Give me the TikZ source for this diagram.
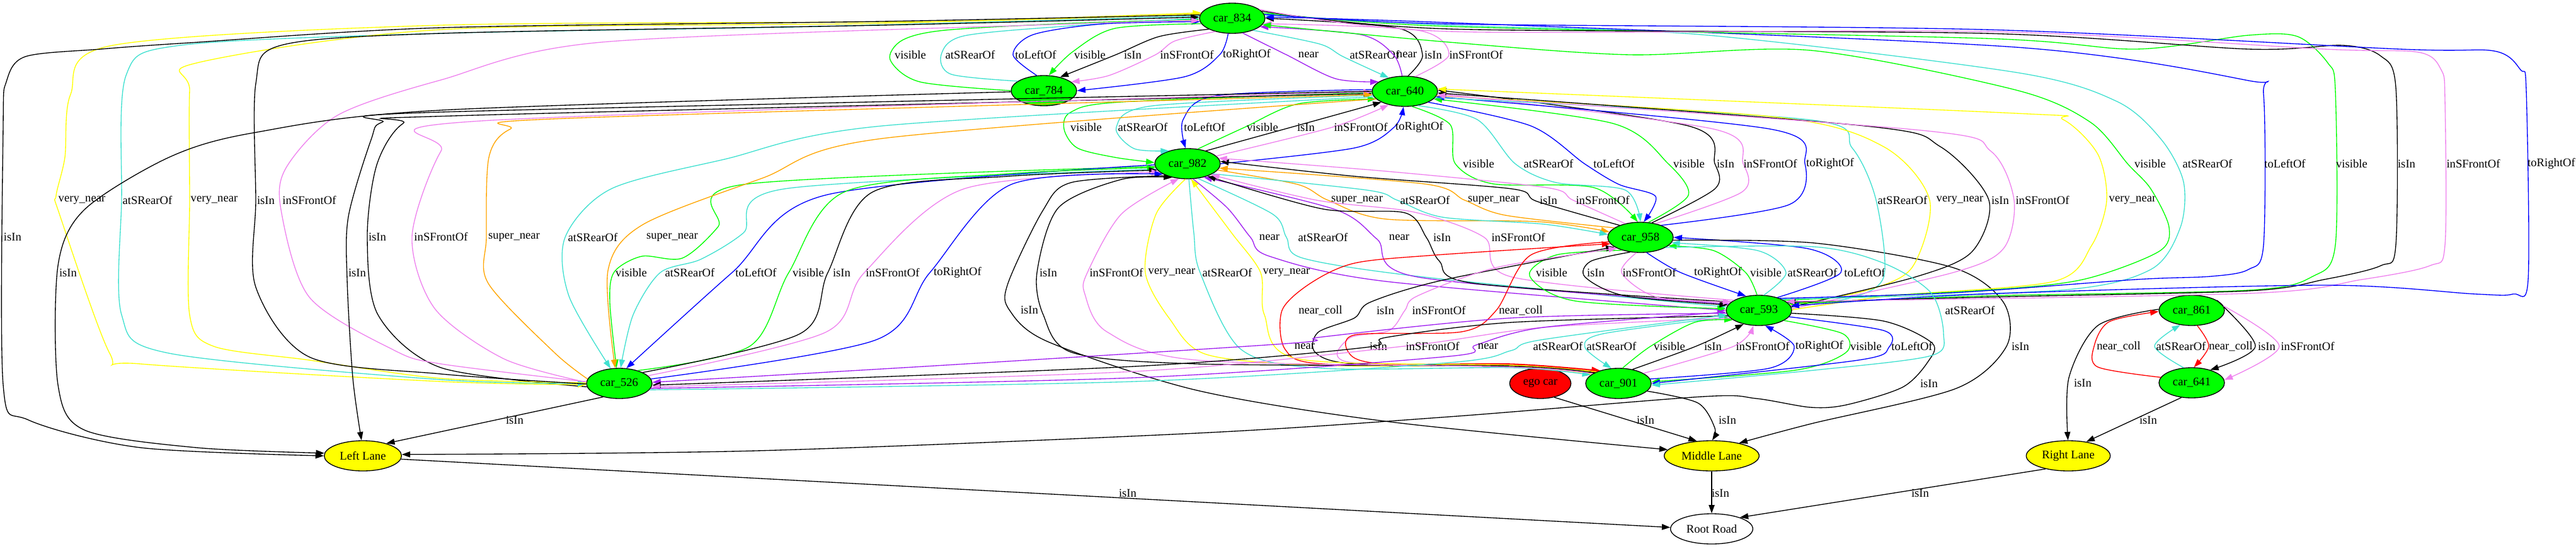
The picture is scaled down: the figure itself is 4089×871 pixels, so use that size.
\documentclass[tikz,border=0pt]{standalone}
\usepackage{fontspec}
\setmainfont{Liberation Serif}
\usepackage{xcolor}
\usepackage{tikz}
\usetikzlibrary{shapes.geometric,arrows.meta}
\definecolor{scenegreen}{RGB}{0,255,0}
\definecolor{scenered}{RGB}{255,0,0}
\definecolor{sceneyellow}{RGB}{255,255,0}
\definecolor{relturquoise}{RGB}{64,224,208}
\definecolor{relblue}{RGB}{0,0,255}
\definecolor{relviolet}{RGB}{238,130,238}
\definecolor{relpurple}{RGB}{160,32,240}
\definecolor{relorange}{RGB}{255,165,0}

\begin{document}
\begin{tikzpicture}[x=0.75pt, y=-0.75pt,
    font=\fontsize{14}{16}\selectfont,
    car/.style={ellipse, draw, line width=1pt, fill=scenegreen, minimum width=78pt, minimum height=36pt, inner sep=0pt},
    lane/.style={car, fill=sceneyellow},
    rel/.style={draw=#1, line width=1pt, -{Triangle[length=10pt, width=7pt]}},
    rel/.default=black]
\useasboundingbox (0,0) rectangle (4089,871);

    % the cars
    \node[car] (car834) at (1956,29) {car\_834};
    \node[car] (car784) at (1657,144) {car\_784};
    \node[car] (car640) at (2230,145) {car\_640};
    \node[car] (car982) at (1885,260) {car\_982};
    \node[car] (car958) at (2604,377) {car\_958};
    \node[car] (car593) at (2792,493) {car\_593};
    \node[car] (car861) at (3479,493) {car\_861};
    \node[car] (car526) at (983,609) {car\_526};
    \node[car, fill=scenered, minimum width=73pt] (egocar) at (2445,609) {ego car};
    \node[car] (car901) at (2569,609) {car\_901};
    \node[car] (car641) at (3479,608) {car\_641};

    % lanes and road
    \node[lane, minimum width=92pt] (leftlane) at (576,724) {Left Lane};
    \node[lane, minimum width=113pt] (middlelane) at (2717,724) {Middle Lane};
    \node[lane, minimum width=100pt] (rightlane) at (3283,724) {Right Lane};
    \node[car, fill=white, minimum width=98pt] (rootroad) at (2717,840) {Root Road};

    % car_784 and car_834
    \draw[rel=scenegreen] plot[smooth] coordinates {(car784.180) (1460,130) (1413,95) (1432,64) (1500,48) (1700,37) (car834.182)} node[at={(1445,87)}] {visible};
    \draw[rel=relturquoise] plot[smooth] coordinates {(car784.160) (1510,118) (1494,87) (1530,57) (1700,41) (car834.180)} node[at={(1540,87)}] {atSRearOf};
    \draw[rel=relblue] plot[smooth] coordinates {(car784.115) (1608,87) (1640,55) (1750,38) (car834.186)} node[at={(1644,87)}] {toLeftOf};
    \draw[rel=scenegreen] plot[smooth] coordinates {(car834.190) (1770,45) (1703,82) (car784.72)} node[at={(1730,87)}] {visible};
    \draw[rel] plot[smooth] coordinates {(car834.205) (1840,58) (1771,87) (car784.40)} node[at={(1798,87)}] {isIn};
    \draw[rel=relviolet] plot[smooth] coordinates {(car834.218) (1865,65) (1834,87) (1760,120) (car784.18)} node[at={(1884,87)}] {inSFrontOf};
    \draw[rel=relblue] plot[smooth] coordinates {(car834.255) (1936,87) (1880,122) (car784.0)} node[at={(1979,87)}] {toRightOf};

    % car_834 and car_640
    \draw[rel=relpurple] plot[smooth] coordinates {(car834.305) (2042,87) (2120,125) (car640.160)} node[at={(2077,87)}] {near};
    \draw[rel=relturquoise] plot[smooth] coordinates {(car834.330) (2095,70) (2132,90) (car640.140)} node[at={(2182,87)}] {atSRearOf};
    \draw[rel=relpurple] plot[smooth] coordinates {(car640.100) (2212,87) (2160,55) (car834.343)} node[at={(2233,87)}] {near};
    \draw[rel] plot[smooth] coordinates {(car640.78) (2258,87) (2220,45) (car834.0)} node[at={(2275,87)}] {isIn};
    \draw[rel=relviolet] plot[smooth] coordinates {(car640.55) (2300,87) (2250,48) (car834.350)} node[at={(2343,87)}] {inSFrontOf};

    % car_640 and car_982
    \draw[rel=scenegreen] plot[smooth] coordinates {(car640.182) (1780,162) (1700,178) (1689,205) (1710,235) (1770,250) (car982.178)} node[at={(1724,202)}] {visible};
    \draw[rel=relturquoise] plot[smooth] coordinates {(car640.187) (1830,168) (1772,202) (1800,236) (car982.145)} node[at={(1814,202)}] {atSRearOf};
    \draw[rel=relblue] plot[smooth] coordinates {(car640.177) (1930,152) (1878,190) (car982.97)} node[at={(1912,202)}] {toLeftOf};
    \draw[rel=scenegreen] plot[smooth] coordinates {(car982.55) (1976,202) (2060,165) (car640.195)} node[at={(2004,202)}] {visible};
    \draw[rel] plot[smooth] coordinates {(car982.35) (2050,202) (car640.205)} node[at={(2073,202)}] {isIn};
    \draw[rel=relviolet] plot[smooth] coordinates {(car982.15) (2115,202) (car640.220)} node[at={(2160,202)}] {inSFrontOf};
    \draw[rel=relblue] plot[smooth] coordinates {(car982.0) (2150,235) (2213,202) (car640.265)} node[at={(2253,202)}] {toRightOf};

    % car_640 and car_958
    \draw[rel=scenegreen] plot[smooth] coordinates {(car640.295) (2302,198) (2310,260) (2370,292) (2530,298) (car958.100)} node[at={(2347,260)}] {visible};
    \draw[rel=relturquoise] plot[smooth] coordinates {(car640.312) (2345,190) (2405,260) (2470,290) (2580,302) (car958.90)} node[at={(2458,260)}] {atSRearOf};
    \draw[rel=relblue] plot[smooth] coordinates {(car640.335) (2430,200) (2515,260) (2570,293) (2628,312) (car958.78)} node[at={(2562,260)}] {toLeftOf};
    \draw[rel=scenegreen] plot[smooth] coordinates {(car958.62) (2680,310) (2648,260) (2560,196) (car640.345)} node[at={(2681,260)}] {visible};
    \draw[rel] plot[smooth] coordinates {(car958.52) (2722,300) (2722,260) (2680,200) (car640.2)} node[at={(2739,260)}] {isIn};
    \draw[rel=relviolet] plot[smooth] coordinates {(car958.42) (2765,305) (2767,260) (2720,205) (car640.356)} node[at={(2810,260)}] {inSFrontOf};
    \draw[rel=relblue] plot[smooth] coordinates {(car958.30) (2840,325) (2865,260) (2810,205) (car640.350)} node[at={(2905,260)}] {toRightOf};

    % car_982 and car_958
    \draw[rel=relorange] plot[smooth] coordinates {(car982.348) (2060,293) (2108,318) (2200,348) (2440,352) (car958.170)} node[at={(2154,318)}] {super\_near};
    \draw[rel=relturquoise] plot[smooth] coordinates {(car982.338) (2170,302) (2218,318) (2290,345) (2450,356) (car958.175)} node[at={(2262,318)}] {atSRearOf};
    \draw[rel=relorange] plot[smooth] coordinates {(car958.160) (2390,342) (2325,318) (2260,292) (car982.352)} node[at={(2371,318)}] {super\_near};
    \draw[rel] plot[smooth] coordinates {(car958.150) (2440,320) (2400,300) (2150,280) (car982.4)} node[at={(2458,318)}] {isIn};
    \draw[rel=relviolet] plot[smooth] coordinates {(car958.138) (2497,318) (2455,298) (2200,272) (car982.10)} node[at={(2544,318)}] {inSFrontOf};

    % car_982 and car_593
    \draw[rel=relpurple] plot[smooth] coordinates {(car982.290) (1948,330) (1985,377) (2015,407) (2200,447) (car593.180)} node[at={(2015,377)}] {near};
    \draw[rel=relturquoise] plot[smooth] coordinates {(car982.305) (2020,340) (2042,377) (2068,410) (2260,440) (car593.174)} node[at={(2100,377)}] {atSRearOf};
    \draw[rel=relpurple] plot[smooth] coordinates {(car593.168) (2250,440) (2186,380) (2120,333) (car982.320)} node[at={(2221,377)}] {near};
    \draw[rel] plot[smooth] coordinates {(car593.163) (2340,450) (2285,415) (2264,377) (2230,338) (2100,332) (car982.328)} node[at={(2289,377)}] {isIn};
    \draw[rel=relviolet] plot[smooth] coordinates {(car593.158) (2400,440) (2356,377) (2245,337) (2090,318) (car982.335)} node[at={(2410,377)}] {inSFrontOf};

    % car_958 and car_593
    \draw[rel=scenegreen] plot[smooth] coordinates {(car958.215) (2470,405) (2428,438) (2500,478) (car593.177)} node[at={(2463,433)}] {visible};
    \draw[rel] plot[smooth] coordinates {(car958.235) (2525,415) (2516,440) (2580,470) (car593.170)} node[at={(2533,433)}] {isIn};
    \draw[rel=relviolet] plot[smooth] coordinates {(car958.255) (2574,433) (2630,472) (car593.163)} node[at={(2618,433)}] {inSFrontOf};
    \draw[rel=relblue] plot[smooth] coordinates {(car958.292) (2668,433) (car593.132)} node[at={(2727,433)}] {toRightOf};
    \draw[rel=scenegreen] plot[smooth] coordinates {(car593.97) (2771,433) (2720,398) (car958.343)} node[at={(2803,433)}] {visible};
    \draw[rel=relturquoise] plot[smooth] coordinates {(car593.72) (2835,433) (2790,398) (car958.350)} node[at={(2877,433)}] {atSRearOf};
    \draw[rel=relblue] plot[smooth] coordinates {(car593.35) (2922,433) (2870,395) (car958.0)} node[at={(2960,433)}] {toLeftOf};

    % car_982 and car_526
    \draw[rel=scenegreen] plot[smooth] coordinates {(car982.185) (1180,293) (1140,360) (1083,410) (1019,407) (975,432) (968,480) (car526.100)} node[at={(1002,433)}] {visible};
    \draw[rel=relturquoise] plot[smooth] coordinates {(car982.190) (1245,300) (1180,370) (1112,412) (1048,433) (1005,500) (car526.85)} node[at={(1095,433)}] {atSRearOf};
    \draw[rel=relblue] plot[smooth] coordinates {(car982.182) (1310,310) (1162,433) (car526.65)} node[at={(1200,433)}] {toLeftOf};
    \draw[rel=scenegreen] plot[smooth] coordinates {(car526.35) (1190,550) (1252,433) (1340,305) (1600,276) (car982.187)} node[at={(1283,433)}] {visible};
    \draw[rel] plot[smooth] coordinates {(car526.25) (1270,530) (1314,433) (1385,305) (1600,280) (car982.192)} node[at={(1336,433)}] {isIn};
    \draw[rel=relviolet] plot[smooth] coordinates {(car526.15) (1310,528) (1372,433) (1530,300) (car982.197)} node[at={(1417,433)}] {inSFrontOf};
    \draw[rel=relblue] plot[smooth] coordinates {(car526.8) (1390,540) (1476,433) (1605,293) (car982.203)} node[at={(1520,433)}] {toRightOf};

    % car_640 and car_526
    \draw[rel] plot[smooth] coordinates {(car526.186) (700,584) (600,500) (583,376) (598,262) (640,196) (720,184) (car640.184)} node[at={(599,376)}] {isIn};
    \draw[rel=relviolet] plot[smooth] coordinates {(car526.178) (800,570) (690,490) (654,376) (700,240) (764,192) (car640.181)} node[at={(700,376)}] {inSFrontOf};
    \draw[rel=relorange] plot[smooth] coordinates {(car526.172) (880,560) (775,450) (772,377) (776,250) (810,205) (900,188) (car640.186)} node[at={(816,377)}] {super\_near};
    \draw[rel=relturquoise] plot[smooth] coordinates {(car640.190) (1400,200) (1150,253) (970,300) (897,377) (903,470) (car526.120)} node[at={(941,377)}] {atSRearOf};
    \draw[rel=relorange] plot[smooth] coordinates {(car640.195) (1400,220) (1210,283) (1020,357) (965,430) (car526.105)} node[at={(1067,377)}] {super\_near};

    % car_834 and car_526
    \draw[rel=sceneyellow] plot[smooth] coordinates {(car834.172) (1500,34) (700,40) (179,72) (112,150) (103,250) (89,311) (94,339) (174,561) (223,578) (700,606) (car526.182)} node[at={(130,318)}] {very\_near};
    \draw[rel=relturquoise] plot[smooth] coordinates {(car834.176) (1300,42) (700,53) (286,72) (200,120) (193,318) (193,500) (268,561) (700,603) (car526.180)} node[at={(234,318)}] {atSRearOf};
    \draw[rel=sceneyellow] plot[smooth] coordinates {(car526.179) (700,601) (491,572) (339,550) (301,500) (301,318) (301,144) (312,100) (700,47) (1400,37) (car834.170)} node[at={(340,318)}] {very\_near};
    \draw[rel] plot[smooth] coordinates {(car526.181) (700,594) (491,567) (406,456) (406,318) (406,133) (446,72) (700,53) (1400,40) (car834.178)} node[at={(422,318)}] {isIn};
    \draw[rel=relviolet] plot[smooth] coordinates {(car526.177) (700,578) (625,556) (491,472) (446,333) (455,265) (536,183) (700,127) (955,67) (1700,38) (car834.184)} node[at={(491,318)}] {inSFrontOf};

    % cars to Left Lane
    \draw[rel] plot[smooth] coordinates {(car834.174) (1400,34) (700,44) (300,68) (160,78) (40,90) (10,130) (5,200) (5,611) (45,667) (223,711) (leftlane.180)} node[at={(20,376)}] {isIn};
    \draw[rel] plot[smooth] coordinates {(car784.182) (700,175) (402,211) (268,250) (134,333) (92,422) (92,611) (134,683) (312,711) (leftlane.176)} node[at={(108,433)}] {isIn};
    \draw[rel] plot[smooth] coordinates {(car640.180) (700,178) (607,194) (589,222) (553,344) (551,444) (560,600) (leftlane.95)} node[at={(567,433)}] {isIn};
    \draw[rel] (car526.220) -- (leftlane.28) node[at={(817,667)}] {isIn};
    \draw[rel] plot[smooth] coordinates {(car593.355) (2990,510) (3067,545) (3060,575) (3020,615) (2931,643) (2874,647) (2788,633) (2702,630) (2300,662) (1900,688) (1200,716) (leftlane.2)} node[at={(3062,609)}] {isIn};

    % cars to Middle Lane
    \draw[rel] (egocar.315) -- (middlelane.135) node[at={(2612,667)}] {isIn};
    \draw[rel] plot[smooth] coordinates {(car901.345) (2695,640) (2722,680) (middlelane.88)} node[at={(2742,667)}] {isIn};
    \draw[rel] plot[smooth] coordinates {(car982.210) (1700,290) (1655,335) (1600,450) (1602,492) (1664,543) (1900,620) (2206,670) (middlelane.172)} node[at={(1634,492)}] {isIn};
    \draw[rel] plot[smooth] coordinates {(car958.355) (2880,386) (3100,425) (3180,480) (3185,550) (3105,617) (2875,673) (middlelane.25)} node[at={(3207,550)}] {isIn};

    % Right Lane and Root Road
    \draw[rel] plot[smooth] coordinates {(car861.178) (3330,517) (3284,600) (rightlane.91)} node[at={(3306,608)}] {isIn};
    \draw[rel] (car641.235) -- (rightlane.38) node[at={(3410,667)}] {isIn};
    \draw[rel] (leftlane.355) -- (rootroad.178) node[at={(1790,783)}] {isIn};
    \draw[rel] (middlelane) -- (rootroad) node[at={(2731,783)}] {isIn};
    \draw[rel] (rightlane.210) -- (rootroad.22) node[at={(3048,783)}] {isIn};

    % car_861 and car_641
    \draw[rel=scenered] plot[smooth] coordinates {(car641.170) (3330,583) (3324,550) (3348,511) (car861.182)} node[at={(3363,550)}] {near\_coll};
    \draw[rel=relturquoise] plot[smooth] coordinates {(car641.118) (3420,550) (car861.232)} node[at={(3462,550)}] {atSRearOf};
    \draw[rel=scenered] plot[smooth] coordinates {(car861.290) (3506,550) (car641.82)} node[at={(3541,550)}] {near\_coll};
    \draw[rel] plot[smooth] coordinates {(car861.22) (3580,550) (car641.35)} node[at={(3598,550)}] {isIn};
    \draw[rel=relviolet] plot[smooth] coordinates {(car861.8) (3618,550) (car641.5)} node[at={(3663,550)}] {inSFrontOf};

    % car_640 and car_593
    \draw[rel=relturquoise] plot[smooth] coordinates {(car640.348) (2870,190) (2940,235) (2978,318) (2990,440) (2930,475) (car593.15)} node[at={(3020,318)}] {atSRearOf};
    \draw[rel=sceneyellow] plot[smooth] coordinates {(car640.352) (2820,186) (2990,233) (3063,318) (3035,425) (2960,462) (car593.10)} node[at={(3111,318)}] {very\_near};
    \draw[rel] plot[smooth] coordinates {(car593.6) (3040,440) (3130,400) (3157,318) (3080,233) (2960,200) (car640.357)} node[at={(3175,318)}] {isIn};
    \draw[rel=relviolet] plot[smooth] coordinates {(car593.3) (3100,433) (3180,395) (3197,318) (3160,240) (3050,207) (car640.353)} node[at={(3242,318)}] {inSFrontOf};
    \draw[rel=sceneyellow] plot[smooth] coordinates {(car593.1) (3000,470) (3260,447) (3320,390) (3344,318) (3330,245) (3275,190) (3200,180) (car640.4)} node[at={(3385,318)}] {very\_near};

    % car_834 and car_593
    \draw[rel=scenegreen] plot[smooth] coordinates {(car593.22) (3150,461) (3306,444) (3426,400) (3443,361) (3414,300) (3378,261) (3318,194) (3200,143) (2874,80) (2587,87) (2300,67) (car834.348)} node[at={(3413,260)}] {visible};
    \draw[rel=relturquoise] plot[smooth] coordinates {(car593.26) (3270,461) (3414,428) (3461,361) (3466,289) (3431,222) (3360,161) (3200,115) (2700,55) (2300,40) (car834.6)} node[at={(3504,260)}] {atSRearOf};
    \draw[rel=relblue] plot[smooth] coordinates {(car593.30) (3100,465) (3390,444) (3509,439) (3569,428) (3593,389) (3593,150) (3569,128) (3200,75) (2300,36) (car834.2)} node[at={(3627,260)}] {toLeftOf};
    \draw[rel=scenegreen] plot[smooth] coordinates {(car834.10) (2300,42) (3150,61) (3390,78) (3569,56) (3647,58) (3695,100) (3707,144) (3707,389) (3671,439) (3569,461) (3150,470) (car593.12)} node[at={(3733,260)}] {visible};
    \draw[rel] plot[smooth] coordinates {(car834.14) (2300,46) (3150,53) (3569,78) (3719,72) (3779,89) (3803,139) (3803,389) (3779,422) (3689,444) (3569,462) (3150,472) (car593.16)} node[at={(3820,260)}] {isIn};
    \draw[rel=relviolet] plot[smooth] coordinates {(car834.18) (2300,50) (3150,50) (3689,78) (3839,83) (3875,111) (3881,160) (3881,389) (3857,422) (3749,444) (3569,466) (car593.18)} node[at={(3926,260)}] {inSFrontOf};
    \draw[rel=relblue] plot[smooth] coordinates {(car834.7) (2300,38) (3150,47) (3809,78) (3959,81) (4001,111) (4010,144) (4013,444) (3989,467) (3929,467) (3689,453) (3150,467) (car593.8)} node[at={(4050,260)}] {toRightOf};

    % car_593 and car_901
    \draw[rel=relturquoise] plot[smooth] coordinates {(car593.192) (2545,530) (2516,552) (car901.115)} node[at={(2558,550)}] {atSRearOf};
    \draw[rel=scenegreen] plot[smooth] coordinates {(car901.75) (2620,550) (2690,512) (car593.200)} node[at={(2650,550)}] {visible};
    \draw[rel] plot[smooth] coordinates {(car901.45) (2692,550) (car593.222)} node[at={(2719,550)}] {isIn};
    \draw[rel=relviolet] plot[smooth] coordinates {(car901.22) (2752,550) (car593.250)} node[at={(2798,550)}] {inSFrontOf};
    \draw[rel=relblue] plot[smooth] coordinates {(car901.8) (2808,585) (2848,550) (car593.292)} node[at={(2888,550)}] {toRightOf};
    \draw[rel=scenegreen] plot[smooth] coordinates {(car593.338) (2925,530) (2930,560) (2850,588) (car901.3)} node[at={(2962,550)}] {visible};
    \draw[rel=relblue] plot[smooth] coordinates {(car593.348) (2990,525) (2998,552) (2950,572) (car901.0)} node[at={(3035,550)}] {toLeftOf};

    % car_958 and car_901
    \draw[rel=scenered] plot[smooth] coordinates {(car901.150) (2400,579) (2100,578) (2040,555) (2035,493) (2080,450) (2150,418) (2280,405) (car958.192)} node[at={(2096,493)}] {near\_coll};
    \draw[rel] plot[smooth] coordinates {(car901.155) (2400,581) (2150,578) (2088,560) (2092,528) (2150,505) (2175,480) (2290,445) (car958.200)} node[at={(2199,493)}] {isIn};
    \draw[rel=relviolet] plot[smooth] coordinates {(car901.158) (2400,583) (2140,575) (2142,537) (2205,525) (2230,493) (2250,470) (2375,425) (car958.205)} node[at={(2284,493)}] {inSFrontOf};
    \draw[rel=scenered] plot[smooth] coordinates {(car958.188) (2430,405) (2375,493) (2320,527) (2150,532) (2145,565) (2200,578) (2400,578) (car901.145)} node[at={(2414,493)}] {near\_coll};
    \draw[rel=relturquoise] plot[smooth] coordinates {(car958.338) (2880,392) (2990,418) (3065,465) (3085,530) (3065,565) (2880,588) (car901.357)} node[at={(3127,493)}] {atSRearOf};

    % car_982 and car_901
    \draw[rel=sceneyellow] plot[smooth] coordinates {(car982.262) (1835,340) (1818,433) (1857,507) (1915,563) (2090,580) (2400,582) (car901.160)} node[at={(1860,433)}] {very\_near};
    \draw[rel=relturquoise] plot[smooth] coordinates {(car982.275) (1895,370) (1905,433) (1970,555) (2100,585) (2400,584) (car901.163)} node[at={(1948,433)}] {atSRearOf};
    \draw[rel=sceneyellow] plot[smooth] coordinates {(car901.152) (2400,580) (2060,570) (2007,500) (2001,433) (1955,370) (car982.283)} node[at={(2042,433)}] {very\_near};
    \draw[rel] plot[smooth] coordinates {(car901.157) (2400,582) (1900,578) (1702,560) (1656,500) (1646,433) (1680,330) (1780,285) (car982.222)} node[at={(1664,433)}] {isIn};
    \draw[rel=relviolet] plot[smooth] coordinates {(car901.159) (2400,583) (1900,572) (1757,527) (1722,467) (1726,433) (1780,340) (car982.240)} node[at={(1772,433)}] {inSFrontOf};

    % car_593 and car_526
    \draw[rel=relpurple] plot[smooth] coordinates {(car593.185) (2400,505) (2100,535) (2052,545) (1500,580) (car526.2)} node[at={(2071,550)}] {near};
    \draw[rel] plot[smooth] coordinates {(car593.190) (2400,512) (2200,536) (2166,552) (1800,582) (car526.357)} node[at={(2188,550)}] {isIn};
    \draw[rel=relviolet] plot[smooth] coordinates {(car593.195) (2450,520) (2228,550) (1800,590) (car526.354)} node[at={(2274,550)}] {inSFrontOf};
    \draw[rel=relpurple] plot[smooth] coordinates {(car526.351) (1800,600) (2300,566) (2343,548) (2450,520) (car593.183)} node[at={(2362,550)}] {near};
    \draw[rel=relturquoise] plot[smooth] coordinates {(car526.348) (1800,606) (2300,576) (2398,557) (2445,540) (car593.188)} node[at={(2473,550)}] {atSRearOf};
\end{tikzpicture}
\end{document}
